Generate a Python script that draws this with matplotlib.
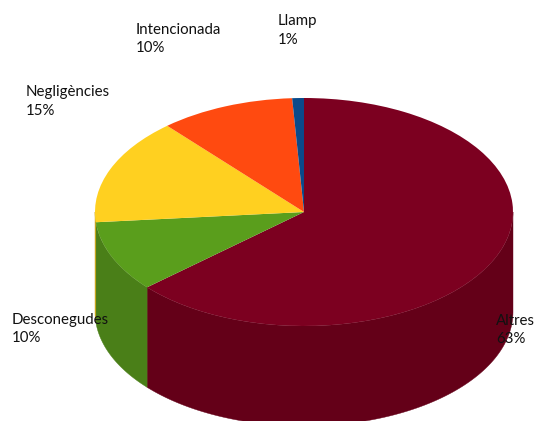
import numpy as np
import matplotlib
matplotlib.use('Agg')
import matplotlib.pyplot as plt

# data, clockwise from 12 o'clock
names = ['Altres', 'Desconegudes', 'Negligències', 'Intencionada', 'Llamp']
values = [63.2, 10.0, 15.0, 10.4, 0.9]
percents = ['63%', '10%', '15%', '10%', '1%']

top_colors = ['#7C0020', '#5A9E1C', '#FFD020', '#FF4A10', '#0A4A8A']
side_colors = ['#640018', '#4A7F18', '#C9A418', '#C93A0C', '#083A6C']

# pie geometry in pixels of the 535x421 image
W, H = 535, 421
cx, cy, rx, ry, depth = 304, 212, 209, 114, 100
# left edge / vertical middle of each label
label_px = [(496, 330), (12, 329), (26, 101.5), (136, 39), (278, 30.5)]

plt.rcParams['font.family'] = ['Lato', 'DejaVu Sans']

fig = plt.figure(figsize=(W / 100, H / 100), dpi=100)
ax = fig.add_axes([0, 0, 1, 1])

# top face: stretched by the axes limits set below
ax.pie(values, colors=top_colors, startangle=90, counterclock=False,
       radius=1, wedgeprops={'linewidth': 0, 'zorder': 3})

# side wall, only the front half of the ellipse shows
d = depth / ry
edges = np.cumsum([0] + values) / np.sum(values) * 360
for i in range(len(values)):
    a0 = max(edges[i], 90)
    a1 = min(edges[i + 1], 270)
    if a1 <= a0:
        continue
    a = np.radians(np.linspace(a0, a1, 100))
    xs = np.sin(a)
    ys = np.cos(a)
    ax.fill(np.r_[xs, xs[::-1]], np.r_[ys, ys[::-1] - d],
            color=side_colors[i], lw=0.3, zorder=2)

ax.set_xlim(-cx / rx, (W - cx) / rx)
ax.set_ylim((cy - H) / ry, cy / ry)
ax.set_aspect('auto')
ax.axis('off')

for name, pct, (px, py) in zip(names, percents, label_px):
    ax.text((px - cx) / rx, (cy - py) / ry, name + '\n' + pct, fontsize=10.8,
            color='#111111', ha='left', va='center', linespacing=1.4, zorder=5)

fig.savefig('out.png', dpi=100)
